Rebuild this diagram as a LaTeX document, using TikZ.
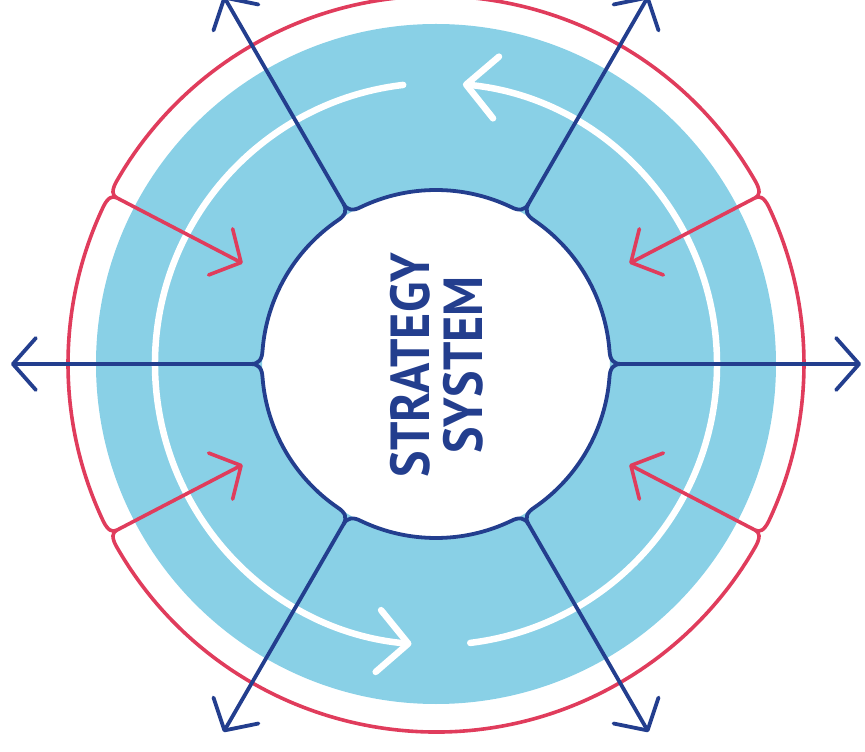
\documentclass[tikz,border=0pt]{standalone}
\usepackage{fontspec}
\setmainfont{PT Sans}
\usetikzlibrary{arrows.meta}
\definecolor{navy}{HTML}{233E8E}
\definecolor{rosered}{HTML}{E03C5C}
\definecolor{skyfill}{HTML}{89D0E6}
\begin{document}
\begin{tikzpicture}[x=1pt,y=1pt,line join=round,
  bluel/.style={navy, line width=3.8pt},
  redl/.style={rosered, line width=3.6pt},
  whitel/.style={white, line width=6.5pt, line cap=round},
  barb/.style={-{Straight Barb[length=23pt,width=52pt,round]}},
  wbarb/.style={-{Straight Barb[length=30pt,width=62pt,round]}},
  label/.style={navy, font=\bfseries\fontsize{55}{60}\selectfont, rotate=90, anchor=base, inner sep=0pt}]
\useasboundingbox (-436,-388) rectangle (429,364);
\coordinate (c) at (0,0);
% light blue ring
\fill[skyfill, even odd rule] (c) circle[radius=340] (c) circle[radius=174];
% white circulating arrows
\draw[whitel, wbarb] (277:281) arc[start angle=277, end angle=444.5, radius=281];
\draw[whitel, wbarb] (96.7:281) arc[start angle=96.7, end angle=265, radius=281];
% red outer outline
\foreach \a/\b in {27.5/152.5, 152.5/207.5, 207.5/332.5, 332.5/387.5}{
  \draw[redl] (\a:360) .. controls (\a:365) and (\a+0.6:368) .. (\a+2.2:368)
     arc[start angle=\a+2.2, end angle=\b-2.2, radius=368]
     .. controls (\b-0.6:368) and (\b:365) .. (\b:360);
}
% red inward arrows
\foreach \a [count=\i] in {27.5,152.5,207.5,332.5}{
  \coordinate (rs\i) at (\a:360);
  \coordinate (re\i) at (\a:218);
  \draw[redl, barb] (rs\i) -- (re\i);
}
% blue inner circle and outward arrows
\foreach \a [count=\i] in {0,60,...,300}{
  \draw[bluel] (\a:185) .. controls (\a:177) and (\a+1.5:174) .. (\a+4.5:174)
    arc[start angle=\a+4.5, end angle=\a+55.5, radius=174]
    .. controls (\a+58.5:174) and (\a+60:177) .. (\a+60:185);
  \coordinate (bs\i) at (\a:185);
  \coordinate (be\i) at (\a:425);
  \draw[bluel, barb] (bs\i) -- (be\i);
}
% central text
\node[label] (t1) at (-6,-1) {\scalebox{0.91}[1]{STRATEGY}};
\node[label] (t2) at (47,-1) {\scalebox{0.91}[1]{SYSTEM}};
\end{tikzpicture}
\end{document}
